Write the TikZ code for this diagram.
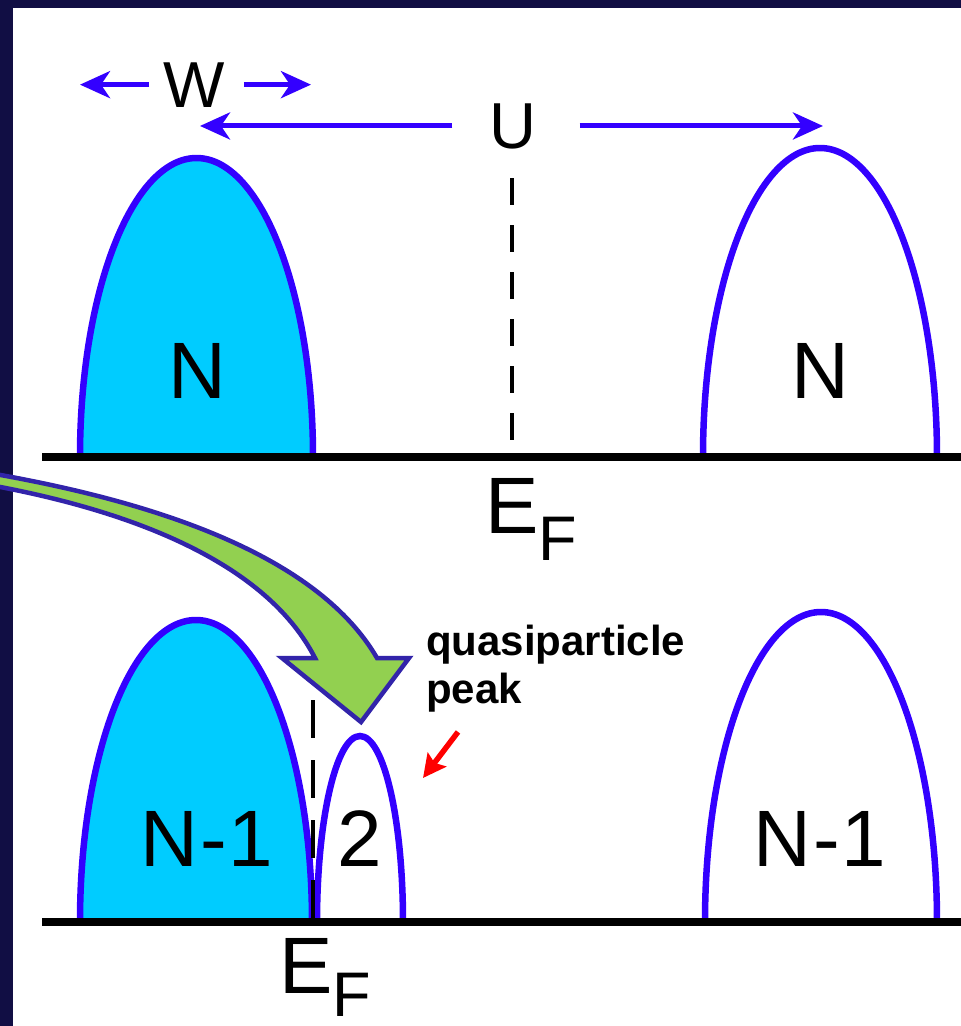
\documentclass[tikz,border=0pt]{standalone}
\usepackage{fontspec}
\setmainfont{Liberation Sans}
\usetikzlibrary{arrows.meta}
\definecolor{navy}{RGB}{17,14,68}
\definecolor{bandblue}{RGB}{51,0,255}
\definecolor{bandcyan}{RGB}{0,204,255}
\definecolor{arrgreen}{RGB}{146,208,80}
\definecolor{arrline}{RGB}{50,36,170}
\begin{document}
\begin{tikzpicture}[x=1pt,y=-1pt,
  band/.style={draw=bandblue,line width=6.5pt},
  filledband/.style={band,fill=bandcyan},
  axisline/.style={line width=8pt,black},
  fermi/.style={line width=3.8pt,black,dash pattern=on 27pt off 20pt},
  fermib/.style={line width=3.8pt,black,dash pattern=on 38pt off 22pt},
  dimarrow/.style={draw=bandblue,line width=5pt,-{Stealth[length=30pt,width=27pt,inset=9pt]}},
  redarrow/.style={draw=red,line width=5.5pt,-{Stealth[length=23pt,width=23pt,inset=4pt]}},
  bigtxt/.style={font=\fontsize{80}{80}\selectfont,inner sep=0pt,anchor=base},
  midtxt/.style={font=\fontsize{65}{65}\selectfont,inner sep=0pt,anchor=base},
  qtxt/.style={font=\bfseries\fontsize{42}{48}\selectfont,inner sep=0pt,anchor=base west},
]
\useasboundingbox (0,0) rectangle (961,1026);
\fill[white] (0,0) rectangle (961,1026);

% top panel bands
\draw[filledband] (80,457) arc[start angle=180,end angle=360,x radius=116.5,y radius=299];
\draw[band] (703,457) arc[start angle=180,end angle=360,x radius=117,y radius=309];
\draw[fermi] (512,178) -- (512,454);
\draw[axisline] (42,457) -- (961,457);

% bottom panel bands
\draw[filledband] (80,922) arc[start angle=180,end angle=360,x radius=116,y radius=302];
\draw[band] (317,922) arc[start angle=180,end angle=360,x radius=43,y radius=186];
\draw[band] (705,922) arc[start angle=180,end angle=360,x radius=116,y radius=310];
\draw[fermib] (313,700) -- (313,919);
\draw[axisline] (42,922) -- (961,922);

% labels top
\node[midtxt] (W) at (194,107) {W};
\node[midtxt] (U) at (513,148) {U};
\coordinate (wl) at (80,0);
\coordinate (wr) at (311,0);
\coordinate (ul) at (200,0);
\coordinate (ur) at (823,0);
\draw[dimarrow] ([xshift=-14pt]W.west) -- (wl |- W.west);
\draw[dimarrow] ([xshift=19pt]W.east) -- (wr |- W.east);
\draw[dimarrow] ([xshift=-37pt]U.west) -- (ul |- U.west);
\draw[dimarrow] ([xshift=43pt]U.east) -- (ur |- U.east);

\node[bigtxt] (NL) at (197,398) {N};
\node[bigtxt] (NR) at (820,398) {N};
\node[bigtxt,anchor=base west] (EF1) at (485,533) {E\raisebox{-27pt}{\fontsize{63}{63}\selectfont F}};

% labels bottom
\node[bigtxt] (NLb) at (207,866) {N\kern2pt-\kern2pt1};
\node[bigtxt] (two) at (360,866) {2};
\node[bigtxt] (NRb) at (820,866) {N\kern2pt-\kern2pt1};
\node[bigtxt,anchor=base west] (EF2) at (279,993) {E\raisebox{-23pt}{\fontsize{63}{63}\selectfont F}};

\node[qtxt] (q1) at (426,655) {quasiparticle};
\node[qtxt] (q2) at (426,703) {peak};
\coordinate (rt) at (423,778);
\draw[redarrow] ([shift={(32,20)}]q2.south west) -- (rt);

% frame
\fill[navy] (0,0) rectangle (961,8);
\fill[navy] (0,0) rectangle (13,1026);

% green curved arrow
\filldraw[fill=arrgreen,draw=arrline,line width=4.5pt,line join=miter]
  (-5,474) .. controls (170,505) and (320,560) .. (377,658)
  -- (409,658) -- (361,722) -- (282,658) -- (315,658)
  .. controls (270,570) and (150,515) .. (-5,486) -- cycle;
\end{tikzpicture}
\end{document}
